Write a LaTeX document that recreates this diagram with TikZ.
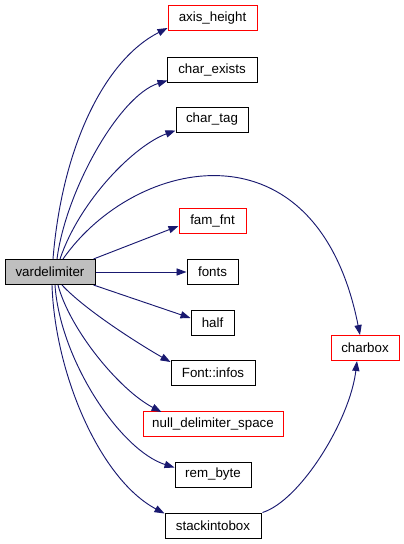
\documentclass[tikz,border=0pt]{standalone}
\usepackage{fontspec}
\setmainfont{Liberation Sans}
\usetikzlibrary{arrows.meta,calc}
\definecolor{edgeblue}{HTML}{191970}
\definecolor{boxgray}{HTML}{BFBFBF}
\begin{document}
\begin{tikzpicture}[x=0.75pt,y=-0.75pt,
  box/.style={draw=black,line width=0.75pt,minimum height=18.75pt,inner sep=0pt,font=\fontsize{10}{12}\selectfont,fill=white},
  redbox/.style={box,draw=red},
  edge/.style={draw=edgeblue,line width=0.7pt,-{Triangle[length=7.5pt,width=5.4pt]}}]
\useasboundingbox (0,0) rectangle (404,544);
\node[box,fill=boxgray,minimum width=67.5pt] (vd) at (50,272) {vardelimiter};
\node[redbox,minimum width=66.75pt] (ah) at (212.5,18) {axis\_height};
\node[box,minimum width=67.5pt] (ce) at (212,69.5) {char\_exists};
\node[box,minimum width=54pt] (ct) at (212,119.5) {char\_tag};
\node[redbox,minimum width=50.25pt] (ff) at (212.5,221) {fam\_fnt};
\node[box,minimum width=38.25pt] (fo) at (212.5,272) {fonts};
\node[box,minimum width=32.25pt] (ha) at (212.5,322.5) {half};
\node[redbox,minimum width=51pt] (cb) at (365,348) {charbox};
\node[box,minimum width=63pt] (fi) at (213,373) {Font::infos};
\node[redbox,minimum width=105pt] (nd) at (213,424) {null\_delimiter\_space};
\node[box,minimum width=57pt] (rb) at (213,474.5) {rem\_byte};
\node[box,minimum width=72pt] (sb) at (213,525.5) {stackintobox};

\draw[edge] ($(vd.north)+(3,0)$) .. controls +(9,-112) and +(-63,32) .. ($(ah.south west)+(0,-3)$);
\draw[edge] ($(vd.north)+(7,0)$) .. controls +(9,-69) and +(-48,15) .. ($(ce.south west)+(1,-2)$);
\draw[edge] ($(vd.north)+(10,0)$) .. controls +(20,-59) and +(-41,15) .. ($(ct.south west)+(0,-2)$);
\draw[edge] ($(vd.north)+(13,0)$) .. controls +(72,-103) and +(-43,-217) .. ($(cb.north)+(-5,0)$);
\draw[edge] ($(vd.north east)+(-2,0)$) -- ($(ff.west)+(0,5)$);
\draw[edge] (vd.east) -- (fo.west);
\draw[edge] ($(vd.south east)+(-2,0)$) -- ($(ha.west)+(0,-4.5)$);
\draw[edge] ($(vd.south)+(12,0)$) .. controls +(23,25) and +(-30,-17) .. ($(fi.north west)+(0,2)$);
\draw[edge] ($(vd.south)+(8,0)$) .. controls +(12,45) and +(-42,-22) .. ($(nd.north west)+(19,1)$);
\draw[edge] ($(vd.south)+(5,0)$) .. controls +(5,75) and +(-54,-17) .. ($(rb.west)+(0,-7)$);
\draw[edge] ($(vd.south)+(2,0)$) .. controls +(3,90) and +(-64,-34) .. ($(sb.north west)+(0,1)$);
\draw[edge] ($(sb.north east)+(1,0)$) .. controls +(38,-12) and +(-7,59) .. ($(cb.south)+(-8,0)$);
\end{tikzpicture}
\end{document}
